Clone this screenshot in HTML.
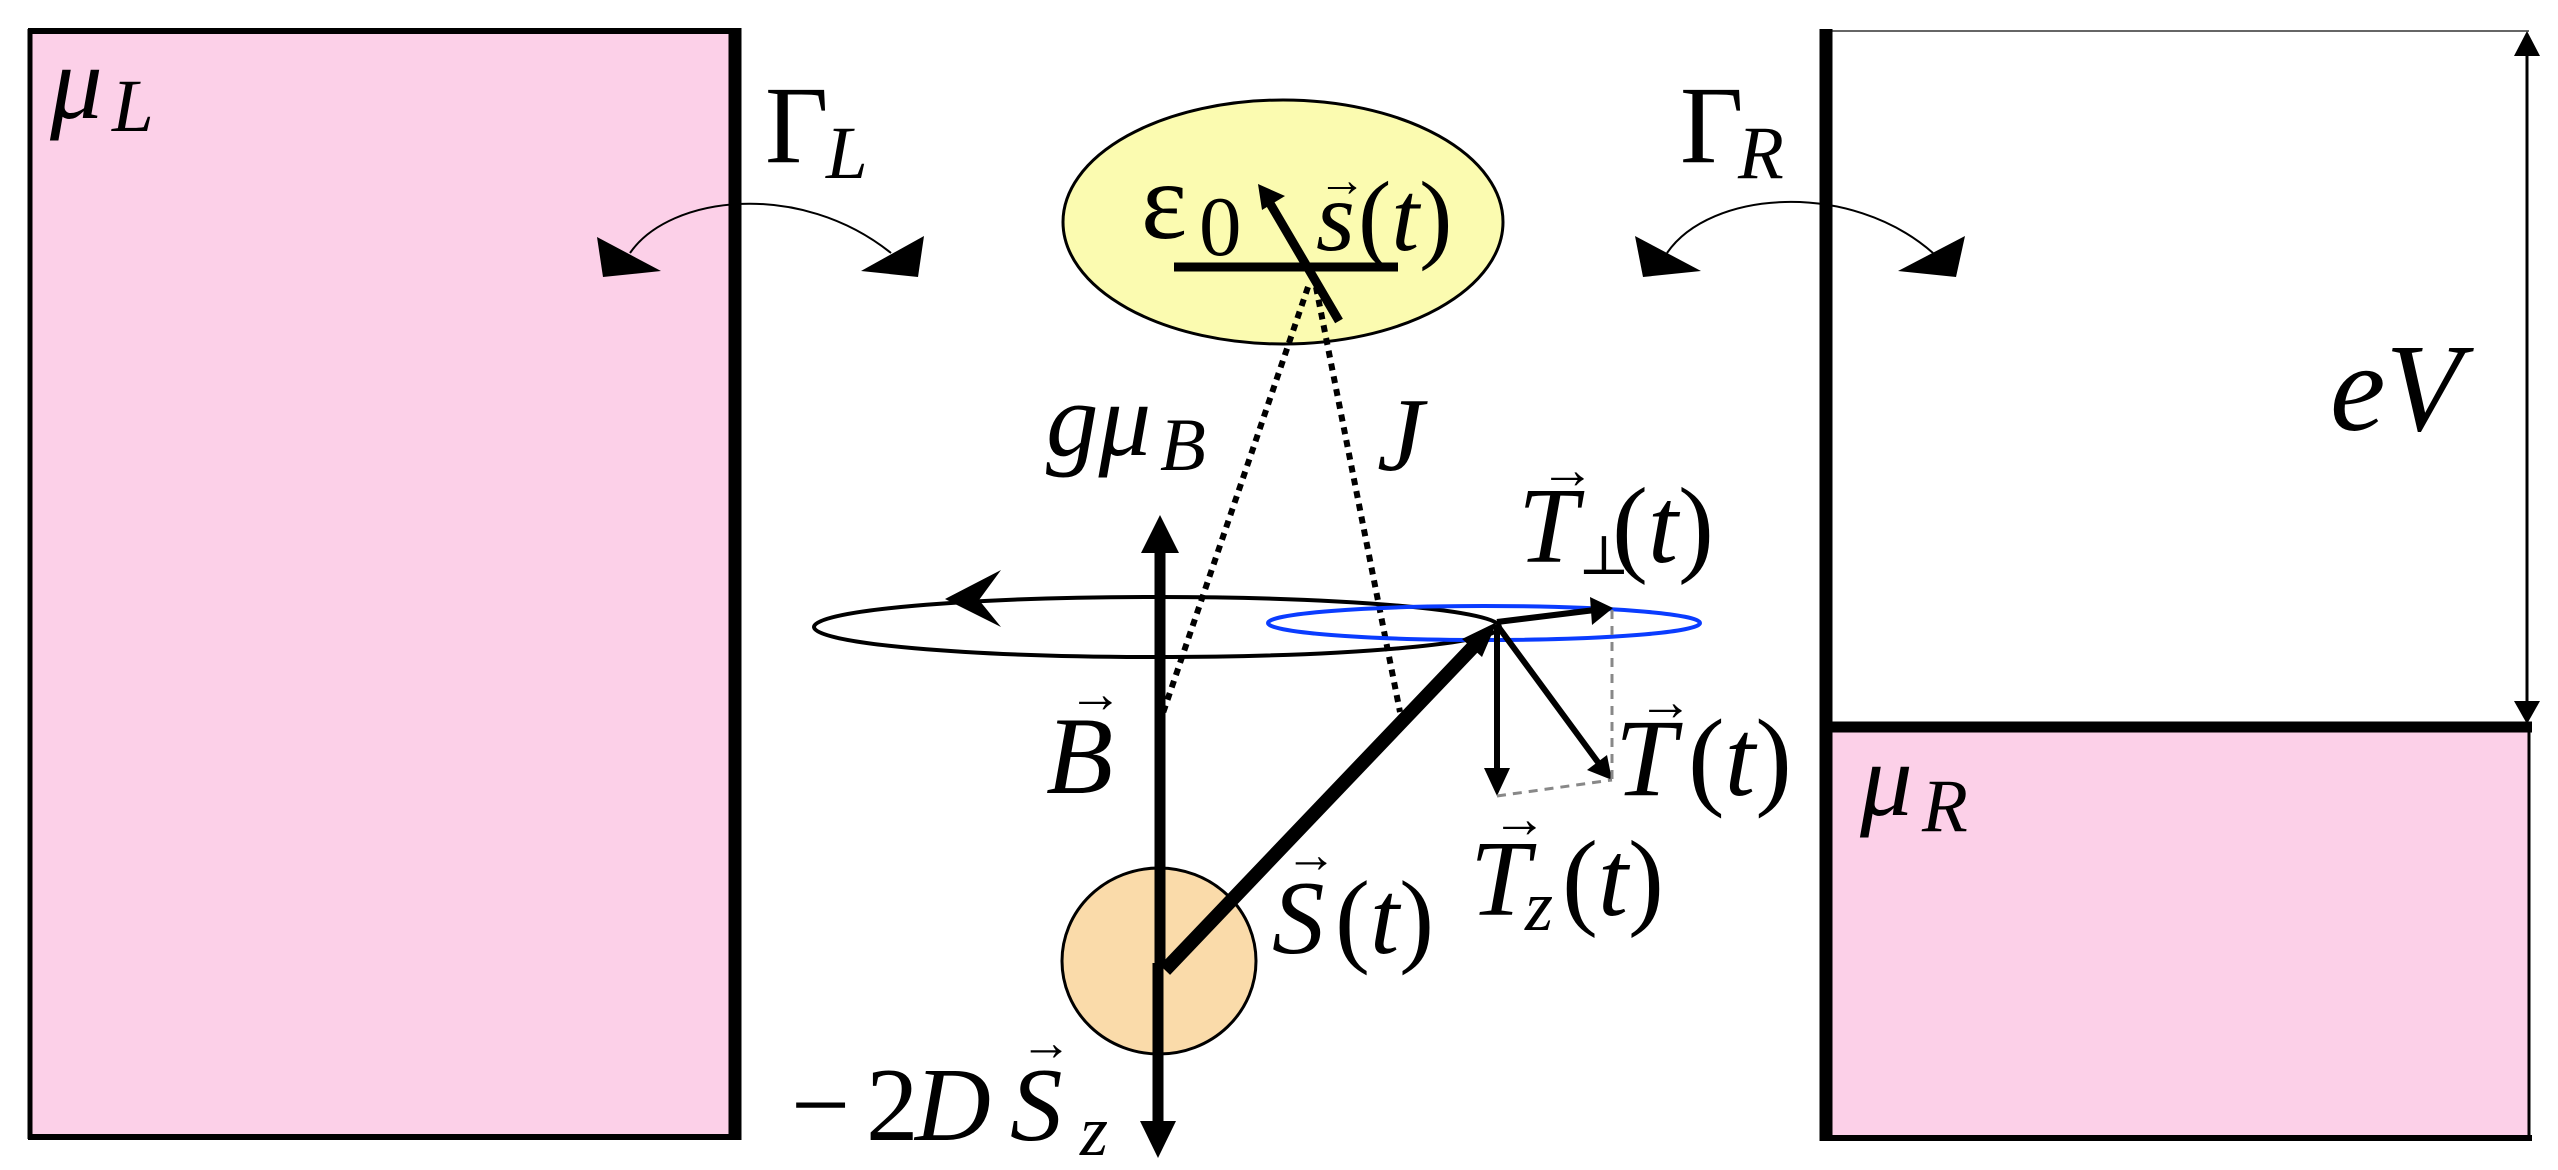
<!DOCTYPE html>
<html><head><meta charset="utf-8"><style>
html,body{margin:0;padding:0;background:#fff;}
svg{display:block;}
</style></head><body>
<svg width="2558" height="1170" viewBox="0 0 2558 1170" xmlns="http://www.w3.org/2000/svg" font-family="Liberation Serif, DejaVu Serif, serif">
<!-- Left lead -->
<rect x="30" y="31" width="704" height="1106" fill="#fcd0e8"/>
<line x1="30" y1="29" x2="30" y2="1139" stroke="#000" stroke-width="5"/>
<line x1="28" y1="31" x2="740" y2="31" stroke="#000" stroke-width="6"/>
<line x1="28" y1="1137" x2="740" y2="1137" stroke="#000" stroke-width="6"/>
<line x1="735" y1="28" x2="735" y2="1140" stroke="#000" stroke-width="13"/>
<text x="50" y="118" font-style="italic" font-size="105">μ</text>
<text x="112" y="131" font-style="italic" font-size="75">L</text>
<!-- Gamma L -->
<text x="765" y="162" font-size="110">Γ</text>
<text x="826" y="178" font-style="italic" font-size="75">L</text>
<path d="M630,253 C670,195 800,180 891,253" fill="none" stroke="#000" stroke-width="2"/>
<polygon points="597,237 603,277 661,271" fill="#000"/>
<polygon points="924,236 918,277 861,271" fill="#000"/>

<!-- Right lead -->
<rect x="1826" y="727" width="703" height="410" fill="#fcd0e8"/>
<line x1="1826" y1="31" x2="2529" y2="31" stroke="#666" stroke-width="2"/>
<line x1="1826" y1="29" x2="1826" y2="1141" stroke="#000" stroke-width="13"/>
<line x1="1820" y1="727" x2="2532" y2="727" stroke="#000" stroke-width="11"/>
<line x1="1820" y1="1138" x2="2532" y2="1138" stroke="#000" stroke-width="6"/>
<line x1="2529" y1="727" x2="2529" y2="1140" stroke="#000" stroke-width="3"/>
<line x1="2527" y1="50" x2="2527" y2="705" stroke="#000" stroke-width="3"/>
<polygon points="2527,31 2514,56 2540,56" fill="#000"/>
<polygon points="2527,724 2514,701 2540,701" fill="#000"/>
<text x="2330" y="430" font-style="italic" font-size="125">eV</text>
<text x="1860" y="815" font-style="italic" font-size="105">μ</text>
<text x="1922" y="831" font-style="italic" font-size="75">R</text>
<!-- Gamma R -->
<text x="1680" y="162" font-size="110">Γ</text>
<text x="1738" y="178" font-style="italic" font-size="75">R</text>
<path d="M1667,253 C1710,190 1850,180 1933,253" fill="none" stroke="#000" stroke-width="2"/>
<polygon points="1635,236 1643,277 1701,271" fill="#000"/>
<polygon points="1965,236 1956,277 1898,271" fill="#000"/>

<!-- Dot ellipse -->
<ellipse cx="1283" cy="222" rx="220" ry="122" fill="#fbfbb0" stroke="#000" stroke-width="3"/>
<text x="1141" y="238" font-size="110">ε</text>
<text x="1199" y="255" font-size="85">0</text>
<line x1="1174" y1="267" x2="1398" y2="267" stroke="#000" stroke-width="9"/>
<text x="1316" y="250" font-style="italic" font-size="100">s</text>
<text x="1318" y="196" font-size="48">→</text>
<text x="1358" y="250" font-size="100">(<tspan font-style="italic">t</tspan>)</text>
<!-- dotted -->
<line x1="1308" y1="287" x2="1163" y2="713" stroke="#000" stroke-width="6" stroke-dasharray="7 6"/>
<line x1="1316" y1="287" x2="1400" y2="712" stroke="#000" stroke-width="6" stroke-dasharray="7 6"/>
<!-- s arrow -->
<line x1="1339" y1="321" x2="1268" y2="200" stroke="#000" stroke-width="9"/>
<polygon points="1258,184 1285,196 1262,210" fill="#000"/>

<!-- labels -->
<text x="1046" y="455" font-style="italic" font-size="105">gμ</text>
<text x="1160" y="470" font-style="italic" font-size="75">B</text>
<text x="1377" y="470" font-style="italic" font-size="105">J</text>

<!-- Big precession ellipse -->
<ellipse cx="1157" cy="627" rx="343" ry="30" fill="none" stroke="#000" stroke-width="4"/>
<polygon points="945,599 1001,570 979,600 1001,627" fill="#000"/>
<!-- Blue ellipse -->
<ellipse cx="1484" cy="623" rx="216" ry="17" fill="none" stroke="#0a3cff" stroke-width="4"/>

<!-- orange circle -->
<ellipse cx="1159" cy="961" rx="97" ry="93" fill="#fadbaa" stroke="#000" stroke-width="3"/>

<!-- axis -->
<line x1="1160" y1="545" x2="1160" y2="967" stroke="#000" stroke-width="11"/>
<polygon points="1160,515 1141,553 1179,553" fill="#000"/>
<line x1="1158" y1="963" x2="1158" y2="1125" stroke="#000" stroke-width="11"/>
<polygon points="1158,1158 1140,1121 1176,1121" fill="#000"/>
<text x="1046" y="793" font-style="italic" font-size="110">B</text>
<text x="1068" y="712" font-size="55">→</text>

<!-- S vector -->
<line x1="1165" y1="970" x2="1475" y2="645" stroke="#000" stroke-width="14"/>
<polygon points="1497,622 1462,639 1482,657" fill="#000"/>

<!-- T perp -->
<line x1="1497" y1="622" x2="1595" y2="610" stroke="#000" stroke-width="6"/>
<polygon points="1613,608 1590,597 1592,625" fill="#000"/>
<!-- Tz -->
<line x1="1497" y1="625" x2="1497" y2="770" stroke="#000" stroke-width="6"/>
<polygon points="1497,796 1484,768 1510,768" fill="#000"/>
<!-- T -->
<line x1="1497" y1="625" x2="1600" y2="765" stroke="#000" stroke-width="6"/>
<polygon points="1612,780 1587,770 1607,755" fill="#000"/>
<!-- gray dashed -->
<line x1="1612" y1="610" x2="1612" y2="780" stroke="#888" stroke-width="3" stroke-dasharray="9 7"/>
<line x1="1497" y1="796" x2="1612" y2="780" stroke="#888" stroke-width="3" stroke-dasharray="9 7"/>

<!-- T labels -->
<text x="1518" y="562" font-style="italic" font-size="108">T</text>
<text x="1540" y="488" font-size="55">→</text>
<text x="1578" y="574" font-size="55">⊥</text>
<text x="1612" y="562" font-size="108">(<tspan font-style="italic">t</tspan>)</text>

<text x="1615" y="795" font-style="italic" font-size="110">T</text>
<text x="1638" y="720" font-size="55">→</text>
<text x="1688" y="795" font-size="110">(<tspan font-style="italic">t</tspan>)</text>

<text x="1272" y="953" font-style="italic" font-size="105">S</text>
<text x="1285" y="872" font-size="52">→</text>
<text x="1335" y="953" font-size="105">(<tspan font-style="italic">t</tspan>)</text>

<text x="1470" y="915" font-style="italic" font-size="108">T</text>
<text x="1492" y="837" font-size="55">→</text>
<text x="1525" y="930" font-style="italic" font-size="72">z</text>
<text x="1562" y="915" font-size="108">(<tspan font-style="italic">t</tspan>)</text>

<text x="791" y="1140" font-size="105">−</text>
<text x="866" y="1140" font-size="105">2</text>
<text x="915" y="1140" font-style="italic" font-size="105">D</text>
<text x="1010" y="1140" font-style="italic" font-size="105">S</text>
<text x="1020" y="1060" font-size="52">→</text>
<text x="1080" y="1155" font-style="italic" font-size="72">z</text>
</svg>
</body></html>
